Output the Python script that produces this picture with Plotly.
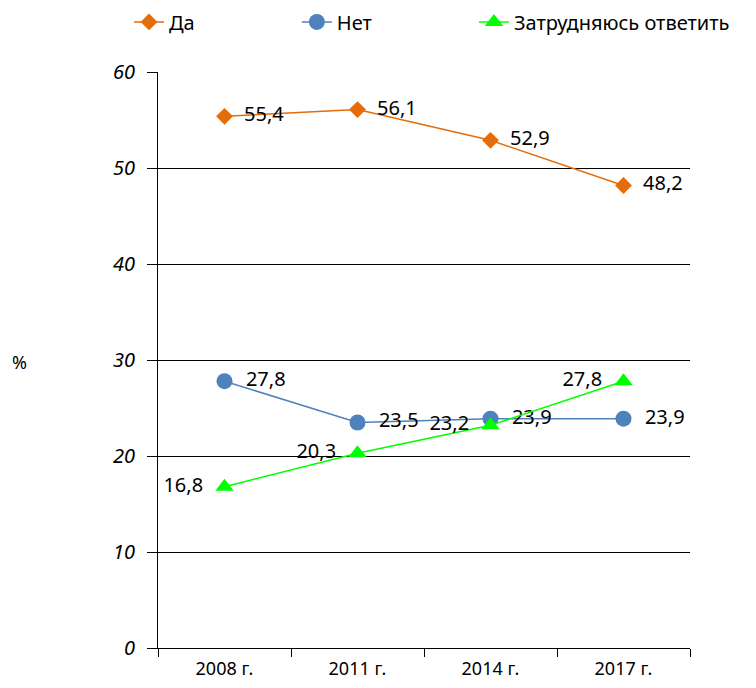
import plotly.graph_objects as go

years = ['2008 г.', '2011 г.', '2014 г.', '2017 г.']
da = [55.4, 56.1, 52.9, 48.2]
net = [27.8, 23.5, 23.9, 23.9]
zatr = [16.8, 20.3, 23.2, 27.8]
y_ticks = [0, 10, 20, 30, 40, 50, 60]

FONT = 'Noto Sans, sans-serif'


def lbl(vals, left=False):
    out = [f'{v:.1f}'.replace('.', ',') for v in vals]
    if left:
        return [s + '\u00a0\u00a0' for s in out]
    return ['\u00a0\u00a0' + s for s in out]


fig = go.Figure()
fig.add_trace(go.Scatter(x=years, y=da, name='Да', mode='lines+markers+text',
                         line=dict(color='#E46C0A', width=1.5),
                         marker=dict(symbol='diamond', size=13, color='#E46C0A'),
                         text=lbl(da), textposition='middle right',
                         textfont=dict(size=20, color='black'), legend='legend'))
fig.add_trace(go.Scatter(x=years, y=net, name='Нет', mode='lines+markers+text',
                         line=dict(color='#4F81BD', width=1.5),
                         marker=dict(symbol='circle', size=16, color='#4F81BD'),
                         text=lbl(net), textposition='middle right',
                         textfont=dict(size=20, color='black'), legend='legend2'))
fig.add_trace(go.Scatter(x=years, y=zatr, name='Затрудняюсь ответить', mode='lines+markers+text',
                         line=dict(color='#00FF00', width=1.5),
                         marker=dict(symbol='triangle-up', size=16, color='#00FF00'),
                         text=lbl(zatr, left=True), textposition='middle left',
                         textfont=dict(size=20, color='black'), legend='legend3'))

fig.add_annotation(text='%', xref='paper', yref='paper', x=-0.278, y=0.4965,
                   showarrow=False, font=dict(size=18, color='black', family=FONT))

leg = dict(orientation='h', y=1.087, xanchor='left', yanchor='middle',
           font=dict(size=20), bgcolor='rgba(0,0,0,0)')

# the page body adds an 8px margin, so the figure is drawn 16px smaller
fig.update_layout(
    width=740, height=672,
    margin=dict(l=150, r=58, t=64, b=32, autoexpand=False),
    plot_bgcolor='white', paper_bgcolor='white',
    font=dict(family=FONT, color='black', size=17),
    showlegend=True,
    legend=dict(leg, x=-0.0545),
    legend2=dict(leg, x=0.261),
    legend3=dict(leg, x=0.594),
    xaxis=dict(type='category', range=[-0.5, 3.5], showline=True, linecolor='black',
               ticks='outside', tickson='boundaries', ticklen=8, tickcolor='black',
               showgrid=False, tickfont=dict(size=18), ticklabelstandoff=4),
    yaxis=dict(range=[0, 60.02], tickvals=y_ticks, showline=True, linecolor='black',
               ticks='outside', ticklen=10, tickcolor='black',
               showgrid=True, gridcolor='black', gridwidth=1, zeroline=False,
               tickfont=dict(size=20, style='italic'), ticklabelstandoff=8),
)

fig.write_html('out.html')
